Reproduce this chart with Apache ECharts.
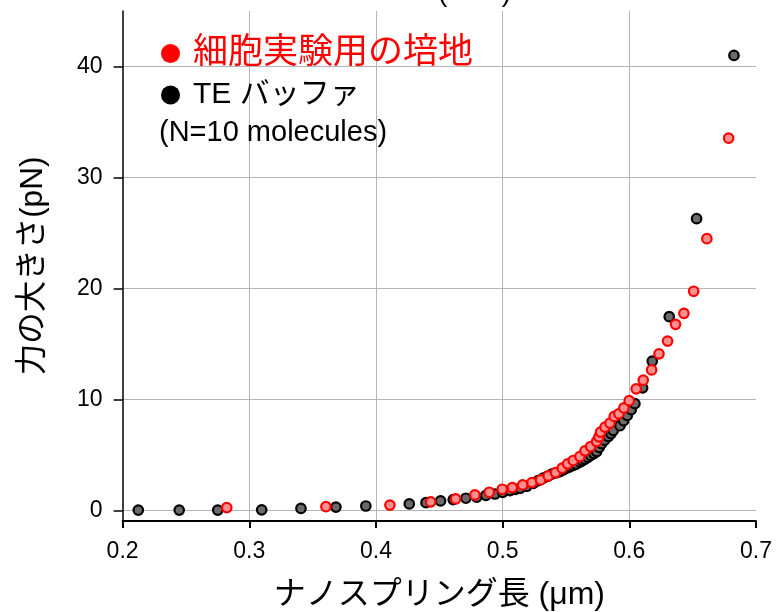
<!DOCTYPE html>
<html>
<head>
<meta charset="utf-8">
<script src="https://cdn.jsdelivr.net/npm/echarts@6/dist/echarts.min.js"></script>
<style>html,body{margin:0;padding:0;background:#fff;}#c{width:780px;height:612px;}</style>
</head>
<body>
<div id="c"></div>
<script>
// ---- data ----
const teX = [0.2124,0.2447,0.2751,0.3098,0.3408,0.3684,0.392,0.4263,0.4395,0.451,0.461,0.471,0.4795,0.4868,0.4939,0.5000,0.5058,0.5100,0.5137,0.519,0.5242,0.528,0.532,0.5355,0.5387,0.542,0.5452,0.548,0.5505,0.553,0.5557,0.558,0.561,0.563,0.565,0.5672,0.5695,0.572,0.5742,0.5762,0.5781,0.5805,0.5834,0.5855,0.5873,0.5926,0.5955,0.5984,0.6015,0.6044,0.6105,0.6181,0.6315,0.6531,0.6826];
const teY = [0.05,0.05,0.05,0.08,0.2,0.32,0.42,0.61,0.72,0.88,1.0,1.12,1.21,1.38,1.5,1.65,1.81,1.92,2.02,2.2,2.45,2.7,2.93,3.1,3.29,3.4,3.52,3.68,3.83,3.95,4.07,4.2,4.37,4.5,4.64,4.8,4.97,5.15,5.33,5.7,6.03,6.35,6.68,6.95,7.23,7.65,8.1,8.58,9.1,9.64,11.06,13.46,17.47,26.3,41.0];
const cellX = [0.2822,0.3605,0.411,0.4432,0.4629,0.4781,0.4894,0.4997,0.5076,0.5158,0.5231,0.530,0.536,0.5418,0.547,0.5513,0.5557,0.561,0.565,0.5695,0.5742,0.5760,0.5773,0.5808,0.5847,0.5881,0.5918,0.5957,0.5999,0.6054,0.611,0.6176,0.6234,0.6302,0.6365,0.6431,0.6508,0.6612,0.6784];
const cellY = [0.28,0.36,0.5,0.8,1.06,1.42,1.66,1.93,2.08,2.32,2.53,2.77,3.13,3.43,3.83,4.22,4.52,4.88,5.39,5.78,6.23,6.65,7.08,7.53,7.89,8.49,8.73,9.25,9.91,10.97,11.75,12.68,14.13,15.27,16.78,17.77,19.76,24.5,33.55];
const yTicks = [0,10,20,30,40];
const nameCell = '細胞実験用の培地';
const nameTE = 'TE バッファ';
const noteText = '(N=10 molecules)';
const xName = 'ナノスプリング長 (μm)';
const yName = '力の大きさ(pN)';

const zip = (xs, ys) => xs.map((x, i) => [x, ys[i]]);
const LAT = '"Liberation Sans", Arial, "Noto Sans CJK JP", sans-serif';

const chart = echarts.init(document.getElementById('c'), null, {renderer: 'canvas'});
chart.setOption({
  animation: false,
  backgroundColor: '#fff',
  grid: {left: 122.6, right: 24, top: 11, bottom: 91, containLabel: false, outerBoundsMode: 'none'},
  title: {
    text: noteText, left: 159, top: 118, padding: 0,
    textStyle: {fontFamily: LAT, fontSize: 29, fontWeight: 'normal', color: '#000'}
  },
  graphic: [{
    type: 'text', left: 438, top: -21, silent: true,
    style: {text: '(       )', font: '28px "Liberation Sans", Arial', fill: '#000'}
  }],
  legend: {
    orient: 'vertical', left: 161, top: 36, padding: 0, itemGap: 9,
    icon: 'circle', itemWidth: 19, itemHeight: 19,
    selectedMode: false,
    itemStyle: {borderWidth: 0},
    textStyle: {fontFamily: LAT, padding: [0, 0, 0, 8]},
    data: [
      {name: nameCell, itemStyle: {color: '#ff0000', borderWidth: 0}, textStyle: {color: '#ff0000', fontSize: 35}},
      {name: nameTE, itemStyle: {color: '#000000', borderWidth: 0}, textStyle: {color: '#000000', fontSize: 30}}
    ]
  },
  xAxis: {
    type: 'value', min: 0.2, max: 0.7, interval: 0.1,
    name: xName, nameLocation: 'middle', nameGap: 58,
    nameTextStyle: {fontFamily: LAT, fontSize: 32, color: '#000'},
    axisLine: {show: true, onZero: false, lineStyle: {color: '#000', width: 2}},
    axisTick: {show: true, length: 7, lineStyle: {color: '#000', width: 2}},
    axisLabel: {fontFamily: LAT, fontSize: 23, color: '#000', margin: 19,
      formatter: v => v.toFixed(1)},
    splitLine: {show: true, showMinLine: false, showMaxLine: false, lineStyle: {color: '#b4b4b4', width: 1}}
  },
  yAxis: {
    type: 'value', min: -0.93, max: 45,
    name: yName, nameLocation: 'middle', nameGap: 74, nameRotate: 90,
    nameTextStyle: {fontFamily: LAT, fontSize: 31.5, color: '#000'},
    axisLine: {show: true, onZero: false, lineStyle: {color: '#000', width: 1.5}},
    axisTick: {show: true, length: 9, customValues: yTicks, lineStyle: {color: '#000', width: 1.5}},
    axisLabel: {fontFamily: LAT, fontSize: 23, color: '#000', margin: 20, customValues: yTicks},
    splitLine: {show: true, lineStyle: {color: '#b4b4b4', width: 1}}
  },
  series: [
    {
      name: nameTE, type: 'scatter', data: zip(teX, teY), symbol: 'circle', symbolSize: 9.5,
      itemStyle: {color: '#6b6b6b', borderColor: '#000', borderWidth: 2.2, opacity: 1},
      z: 2
    },
    {
      name: nameCell, type: 'scatter', data: zip(cellX, cellY), symbol: 'circle', symbolSize: 9.5,
      itemStyle: {color: '#ff9090', borderColor: '#ff0000', borderWidth: 2.2, opacity: 1},
      z: 3
    }
  ]
});
</script>
</body>
</html>
